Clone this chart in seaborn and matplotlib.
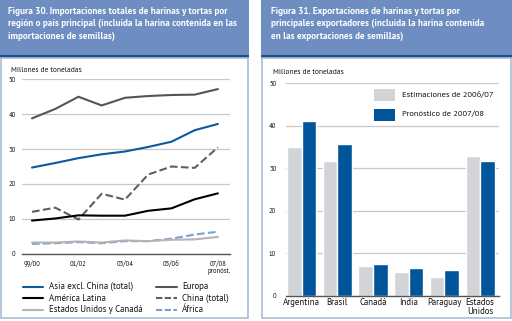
import matplotlib
matplotlib.use("Agg")
import matplotlib.pyplot as plt
import seaborn as sns
import pandas as pd
from matplotlib import font_manager as fm
from matplotlib.patches import Rectangle
from matplotlib.lines import Line2D

sns.set_theme(style="white")

# ---------- data ----------
seasons = ["99/00", "00/01", "01/02", "02/03", "03/04", "04/05", "05/06", "06/07", "07/08"]
tick_labels = ["99/00", "", "01/02", "", "03/04", "", "05/06", "", "07/08"]
asia = [24.7, 26.0, 27.4, 28.5, 29.3, 30.6, 32.1, 35.4, 37.2]
europa = [38.8, 41.5, 45.0, 42.5, 44.7, 45.2, 45.5, 45.6, 47.2]
america_latina = [9.5, 10.1, 11.0, 10.9, 10.9, 12.3, 13.0, 15.6, 17.3]
china = [12.0, 13.2, 9.8, 17.2, 15.5, 22.7, 25.0, 24.6, 30.5]
eeuu_canada = [3.2, 3.2, 3.5, 3.2, 3.8, 3.6, 4.0, 4.1, 4.8]
africa = [2.8, 3.0, 3.3, 3.0, 3.6, 3.6, 4.3, 5.5, 6.3]

exporters = ["Argentina", "Brasil", "Canadá", "India", "Paraguay", "Estados\nUnidos"]
est_2006 = [35.0, 31.7, 7.0, 5.6, 4.4, 32.9]
pron_2007 = [41.2, 35.8, 7.5, 6.5, 6.1, 31.7]
bar_series = ["Estimaciones de 2006/07", "Pronóstico de 2007/08"]


def pick(cands, weight=400):
    for c in cands:
        ents = [f for f in fm.fontManager.ttflist if f.name == c]
        ws = [f.weight for f in ents if isinstance(f.weight, int)]
        if not ws:
            continue
        if weight <= 400 and any(350 <= w <= 450 for w in ws):
            return c
        if weight > 400 and any(w >= weight - 50 for w in ws):
            return c
    return "DejaVu Sans"


CANDS = ["PT Sans", "Open Sans", "Noto Sans", "Lato"]
BODY = pick(CANDS, 400)
TITLEF = pick(CANDS, 600)
plt.rcParams['font.family'] = [BODY, 'DejaVu Sans']

W, H = 512, 321
fig = plt.figure(figsize=(W / 100, H / 100), dpi=100)
fig.patch.set_facecolor("white")
renderer = fig.canvas.get_renderer()


def fit(text, target, weight="normal", family=BODY):
    t = fig.text(0, 0, text, fontsize=10, family=[family, "DejaVu Sans"], fontweight=weight)
    w = t.get_window_extent(renderer).width
    t.remove()
    return 10 * target / w


def fx(px):
    return px / W


def fy(py):
    return 1 - py / H


def add_axes_px(x0, y0, x1, y1):
    return fig.add_axes([fx(x0), fy(y1), fx(x1) - fx(x0), (y1 - y0) / H])


HEAD = "#6e8ec2"
BAND = "#1d4f8e"
BORDER = "#a9bdd6"
TXT = "#111111"

fs_title = min(fit("Figura 30. Importaciones totales de harinas y tortas por", 221, "bold", TITLEF),
               fit("Figura 31. Exportaciones de harinas y tortas por", 208, "bold", TITLEF))
fs_small = fit("Millones de toneladas", 71)
fs_tick = fit("99/00", 17.0)
fs_leg = fit("Estados Unidos y Canadá", 94)
fs_leg2 = fit("Estimaciones de 2006/07", 91.6)
fs_cat = fit("Argentina", 37.3)
fs_pron = fit("pronóst.", 23)

# panel decorations
panels = [
    (0, 249, 8, ["Figura 30. Importaciones totales de harinas y tortas por",
                 "región o país principal (incluida la harina contenida en las",
                 "importaciones de semillas)"]),
    (261, 512, 271, ["Figura 31. Exportaciones de harinas y tortas por",
                     "principales exportadores (incluida la harina contenida",
                     "en las exportaciones de semillas)"]),
]
for (x0, x1, tx, lines) in panels:
    fig.patches.append(Rectangle((fx(x0), fy(55)), fx(x1) - fx(x0), 55 / H,
                                 transform=fig.transFigure, facecolor=HEAD, edgecolor="none"))
    fig.patches.append(Rectangle((fx(x0), fy(58)), fx(x1) - fx(x0), 3 / H,
                                 transform=fig.transFigure, facecolor=BAND, edgecolor="none"))
    fig.patches.append(Rectangle((fx(x0 + 0.7), fy(318)), fx(x1 - 1.5) - fx(x0 + 0.7), 260 / H,
                                 transform=fig.transFigure, facecolor="none", edgecolor=BORDER, linewidth=1.2))
    for k, ln in enumerate(lines):
        fig.text(fx(tx), fy(13.5 + 12.7 * k), ln, color="white", fontsize=fs_title,
                 fontweight="bold", family=[TITLEF, "DejaVu Sans"], va="baseline", ha="left")

# ---------- left line chart ----------
x = list(range(len(seasons)))
axL = add_axes_px(22, 79.3, 230, 253.7)
series = [
    (asia, "Asia excl. China (total)", "#0b59a1", "-"),
    (europa, "Europa", "#555555", "-"),
    (america_latina, "América Latina", "#000000", "-"),
    (china, "China (total)", "#5f5f5f", "--"),
    (eeuu_canada, "Estados Unidos y Canadá", "#b4b4b4", "-"),
    (africa, "África", "#7e9fd3", "--"),
]
for vals, name, col, ls in series[::-1]:
    sns.lineplot(x=x, y=vals, ax=axL, color=col, linestyle=ls, linewidth=1.5, clip_on=False)
axL.set_xlim(-0.43, 8.52)
axL.set_ylim(0, 50)
axL.set_yticks([0, 10, 20, 30, 40, 50])
axL.set_yticklabels(["0", "10", "20", "30", "40", "50"], fontsize=fs_tick, color=TXT)
axL.tick_params(axis="y", length=0, pad=4.5)
axL.set_xticks(x)
axL.set_xticklabels(tick_labels, fontsize=fs_tick, color=TXT)
axL.tick_params(axis="x", length=4, width=0.9, direction="inout", color="#222222", pad=3.0)
axL.grid(axis="y", color="#c8c8c8", linewidth=0.9)
axL.set_axisbelow(True)
for s in ["left", "right", "top"]:
    axL.spines[s].set_visible(False)
axL.spines["bottom"].set_color("#555555")
axL.spines["bottom"].set_linewidth(1.0)
axL.set_xlabel("")
axL.set_ylabel("")
fig.text(fx(219.5), fy(271.5), "pronóst.", fontsize=fs_pron, color=TXT, ha="center", va="center")
fig.text(fx(11), fy(70), "Millones de toneladas", fontsize=fs_small, color=TXT, va="center", ha="left")

# left legend (two columns, drawn by hand)
legend_order = [series[0], series[2], series[4], series[1], series[3], series[5]]
rows = [286.7, 298.3, 310.0]
for idx, (_, name, col, ls) in enumerate(legend_order):
    col_i, row_i = divmod(idx, 3)
    hx0, hx1, tx = [(23.3, 43.3, 49.3), (156, 176.7, 182.3)][col_i]
    yy = fy(rows[row_i])
    fig.add_artist(Line2D([fx(hx0), fx(hx1)], [yy, yy], color=col, linestyle=ls,
                          linewidth=1.5, transform=fig.transFigure,
                          dashes=(3, 1.2) if ls == "--" else (None, None)))
    fig.text(fx(tx), yy, name, fontsize=fs_leg, color=TXT, va="center", ha="left")

# ---------- right bar chart ----------
df = pd.DataFrame({
    "pais": exporters * 2,
    "valor": est_2006 + pron_2007,
    "serie": [bar_series[0]] * len(exporters) + [bar_series[1]] * len(exporters),
})
bar_colors = ["#d2d4d8", "#00559b"]
axR = add_axes_px(286, 83.3, 498.7, 296)
sns.barplot(data=df, x="pais", y="valor", hue="serie", ax=axR,
            palette=bar_colors, width=0.82, saturation=1, legend=False)
axR.set_xlim(-0.44, 5.52)
axR.set_ylim(0, 50)
axR.set_yticks([0, 10, 20, 30, 40, 50])
axR.set_yticklabels(["0", "10", "20", "30", "40", "50"], fontsize=fs_tick, color=TXT)
axR.tick_params(axis="y", length=0, pad=7)
axR.tick_params(axis="x", length=0, pad=1.5, labelsize=fs_cat, labelcolor="#111111")
for lab in axR.get_xticklabels():
    lab.set_linespacing(0.95)
axR.grid(axis="y", color="#c8c8c8", linewidth=0.9)
axR.set_axisbelow(True)
for s in ["left", "right", "top"]:
    axR.spines[s].set_visible(False)
axR.spines["bottom"].set_color("#555555")
axR.spines["bottom"].set_linewidth(1.0)
axR.set_xlabel("")
axR.set_ylabel("")
for k, (name, col) in enumerate(zip(bar_series, bar_colors)):
    y0 = 89.3 + 19.7 * k
    fig.patches.append(Rectangle((fx(373.7), fy(y0 + 11.7)), fx(395.3) - fx(373.7), 11.7 / H,
                                 transform=fig.transFigure, facecolor=col, edgecolor="none"))
    fig.text(fx(401.7), fy(y0 + 5.9), name, fontsize=fs_leg2, color=TXT, va="center", ha="left")
fig.text(fx(273), fy(72), "Millones de toneladas", fontsize=fs_small, color=TXT, va="center", ha="left")

fig.savefig("out.png", dpi=100, facecolor="white")
